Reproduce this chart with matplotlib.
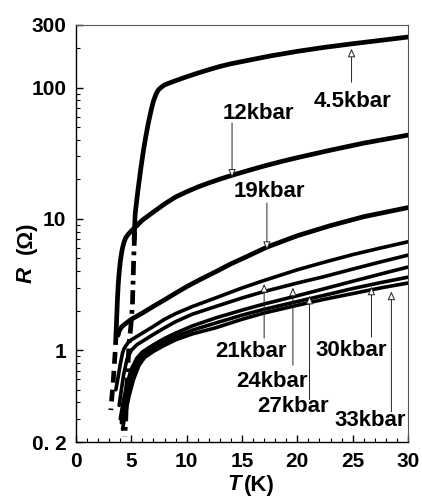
import matplotlib
matplotlib.use("Agg")
import matplotlib.pyplot as plt
from matplotlib import font_manager
from matplotlib.ticker import FixedLocator, NullFormatter

# ---------------- data (T in K, R in Ohm) ----------------
# 4.5 kbar
t_45 = [5.25, 5.35, 5.6, 5.85, 6.1, 6.3, 6.5, 6.8, 7.0, 7.2, 7.4, 7.6, 7.8, 8.0, 9, 10, 11, 12, 13, 14, 15, 17.5, 20, 22.5, 25, 27.5, 30]
r_45 = [6.9, 11, 16.6, 24, 33.5, 42, 52, 68, 79, 88, 95, 99, 102, 105, 113, 121, 129, 137, 145, 152, 158, 174, 189, 203, 216, 229, 243]
t_45_low = [5.3, 5.2, 5.1, 4.95, 4.8, 4.6, 4.5, 4.4]
r_45_low = [8.0, 4.5, 2.2, 1.5, 1.15, 0.55, 0.3, 0.22]

# 12 kbar
t_12 = [3.62, 3.68, 3.75, 3.82, 3.9, 4.0, 4.1, 4.2, 4.35, 4.5, 4.7, 5.0, 5.5, 6, 7, 8, 9, 10, 11, 12, 13, 14.1, 15.5, 17, 18.5, 20, 23, 26, 30]
r_12 = [1.35, 1.8, 2.5, 3.2, 3.9, 4.7, 5.4, 6.0, 6.7, 7.2, 7.6, 8.1, 8.9, 9.8, 11.3, 13.0, 14.7, 16.1, 17.5, 18.8, 20.1, 21.5, 23.3, 25.3, 27.3, 29.3, 33.4, 37.8, 43.5]
t_12_low = [3.62, 3.55, 3.45, 3.35, 3.25, 3.15]
r_12_low = [1.35, 1.0, 0.75, 0.55, 0.45, 0.35]

# 19 kbar
t_19 = [3.8, 3.9, 4.1, 4.5, 5, 6, 7, 8, 9, 10, 11.2, 12.6, 14, 15.5, 17.25, 20, 23, 26, 30]
r_19 = [1.3, 1.4, 1.5, 1.6, 1.72, 1.92, 2.16, 2.42, 2.72, 3.05, 3.45, 3.95, 4.55, 5.2, 6.1, 7.45, 8.9, 10.4, 12.2]

# 21 kbar
t_21 = [3.6, 3.8, 4.0, 4.2, 4.35, 4.5, 4.7, 5.0, 6, 7, 8, 9, 10.5, 12.6, 15, 17, 20, 22.5, 25, 27.5, 30]
r_21 = [0.5, 0.62, 0.78, 0.95, 1.03, 1.08, 1.14, 1.2, 1.35, 1.52, 1.72, 1.9, 2.15, 2.5, 2.98, 3.4, 4.1, 4.7, 5.35, 6.0, 6.7]

# 24 kbar
t_24 = [3.9, 4.1, 4.3, 4.6, 5.0, 5.5, 6, 7, 8, 9, 10.5, 12.6, 15, 17, 20, 22.5, 25, 27.5, 30]
r_24 = [0.38, 0.5, 0.65, 0.85, 1.0, 1.1, 1.17, 1.32, 1.48, 1.65, 1.88, 2.15, 2.5, 2.8, 3.25, 3.65, 4.15, 4.7, 5.3]

# 27 kbar
t_27 = [4.0, 4.3, 4.6, 5.0, 5.5, 6, 7, 8, 9, 10.5, 12.6, 15, 17, 20, 22.5, 25, 27.5, 30]
r_27 = [0.3, 0.42, 0.55, 0.72, 0.87, 0.97, 1.1, 1.23, 1.35, 1.53, 1.76, 2.02, 2.25, 2.6, 2.95, 3.35, 3.8, 4.3]

# 30 kbar
t_30 = [4.1, 4.4, 4.7, 5.1, 5.6, 6.1, 7, 8, 9, 10.5, 12.6, 15, 17, 20, 22.5, 25, 27.5, 30]
r_30 = [0.28, 0.38, 0.5, 0.66, 0.82, 0.93, 1.04, 1.16, 1.27, 1.42, 1.61, 1.85, 2.05, 2.35, 2.63, 2.95, 3.27, 3.6]

# 33 kbar
t_33 = [4.2, 4.5, 4.8, 5.2, 5.7, 6.2, 7, 8, 9, 10.5, 12.6, 15, 17, 20, 22.5, 25, 27.5, 30]
r_33 = [0.25, 0.34, 0.45, 0.6, 0.77, 0.88, 0.98, 1.09, 1.2, 1.33, 1.48, 1.72, 1.92, 2.2, 2.45, 2.7, 2.98, 3.25]

labels = ["4.5kbar", "12kbar", "19kbar", "21kbar", "24kbar", "27kbar", "30kbar", "33kbar"]

x_ticks = [0, 5, 10, 15, 20, 25, 30]
y_ticks = [0.2, 1, 10, 100, 300]
y_tick_labels = ["0. 2", "1", "10", "100", "300"]

# ---------------- layout (label / arrow placement) ----------------
label_pos = [(25.0, 79), (16.5, 64), (17.5, 16.3), (15.8, 0.97),
             (17.7, 0.58), (19.6, 0.37), (24.9, 1.0), (26.6, 0.29)]
arrow_from = [(24.9, 110), (14.1, 53.8), (17.25, 13.2), (17.0, 1.24),
              (19.6, 0.77), (21.1, 0.42), (26.7, 1.26), (28.5, 0.34)]
arrow_to = [(24.9, 198), (14.1, 20.6), (17.25, 5.8), (17.0, 3.2),
            (19.6, 3.0), (21.1, 2.6), (26.7, 3.05), (28.5, 2.8)]

names = {f.name for f in font_manager.fontManager.ttflist}
main_font = "Liberation Sans" if "Liberation Sans" in names else "DejaVu Sans"
tick_font = "Liberation Sans Narrow" if "Liberation Sans Narrow" in names else main_font
tick_size = 17 if tick_font == "Liberation Sans Narrow" else 15

fig = plt.figure(figsize=(4.22, 5.04), dpi=100)
W, H = 422, 504
ax = fig.add_axes([76 / W, 1 - 442 / H, 332 / W, 417 / H])

lw_big = 3.4
lw_small = 2.6
ax.plot(t_45, r_45, color="black", lw=lw_big, solid_capstyle="round", solid_joinstyle="round")
ax.plot(t_45_low, r_45_low, color="black", lw=lw_big, linestyle=(0, (3, 1.2, 0.8, 1.2)))
ax.plot(t_12, r_12, color="black", lw=lw_big, solid_capstyle="round", solid_joinstyle="round")
ax.plot(t_12_low, r_12_low, color="black", lw=lw_big, linestyle=(0, (2.5, 1.5)))
ax.plot(t_19, r_19, color="black", lw=lw_big, solid_capstyle="round", solid_joinstyle="round")
for t, r in [(t_21, r_21), (t_24, r_24), (t_27, r_27), (t_30, r_30), (t_33, r_33)]:
    ax.plot(t, r, color="black", lw=lw_small, solid_capstyle="round", solid_joinstyle="round")

ax.set_yscale("log")
ax.set_xlim(0, 30)
ax.set_ylim(0.2, 300)

ax.xaxis.set_major_locator(FixedLocator(x_ticks))
ax.xaxis.set_minor_locator(FixedLocator([i for i in range(31) if i % 5]))
ax.set_xticklabels([str(v) for v in x_ticks])

minor_y = []
for dec in [0.1, 1, 10, 100]:
    for m in range(2, 10):
        v = dec * m
        if 0.2 < v < 300 and v not in (1, 10, 100):
            minor_y.append(v)
ax.yaxis.set_major_locator(FixedLocator(y_ticks))
ax.yaxis.set_minor_locator(FixedLocator(minor_y))
ax.yaxis.set_minor_formatter(NullFormatter())
ax.set_yticklabels(y_tick_labels)

ax.tick_params(which="both", direction="in", top=False, right=False, color="black")
ax.tick_params(which="major", length=5, width=1.0, pad=7)
ax.tick_params(which="minor", length=3, width=0.8)
for lab in ax.get_xticklabels() + ax.get_yticklabels():
    lab.set_fontfamily(tick_font)
    lab.set_fontweight("bold")
    lab.set_fontsize(tick_size)

ax.spines["left"].set_linewidth(1.0)
ax.spines["bottom"].set_linewidth(1.0)
for s in ["top", "right"]:
    ax.spines[s].set_linewidth(0.8)
    ax.spines[s].set_color("#555555")

for lab, pos, a0, a1 in zip(labels, label_pos, arrow_from, arrow_to):
    ax.text(pos[0], pos[1], lab, fontfamily=main_font, fontweight="bold",
            fontsize=16, ha="center", va="center")
    ax.annotate("", xy=a1, xytext=a0,
                arrowprops=dict(arrowstyle="-|>,head_length=0.5,head_width=0.22",
                                fc="white", ec="#222222", lw=0.7,
                                shrinkA=0, shrinkB=0))

# axis labels
fig.text(241 / W, 1 - 485 / H, "T", fontfamily=main_font, fontweight="bold",
         style="italic", fontsize=16, ha="right", va="center")
fig.text(244 / W, 1 - 485 / H, "(K)", fontfamily=main_font, fontweight="bold",
         fontsize=16, ha="left", va="center")
fig.text(26 / W, 1 - 275 / H, "R", fontfamily=main_font, fontweight="bold",
         style="italic", fontsize=16, ha="center", va="center", rotation=90)
fig.text(26 / W, 1 - 238 / H, "(Ω)", fontfamily=main_font, fontweight="bold",
         fontsize=16, ha="center", va="center", rotation=90)

fig.savefig("out.png", dpi=100)
